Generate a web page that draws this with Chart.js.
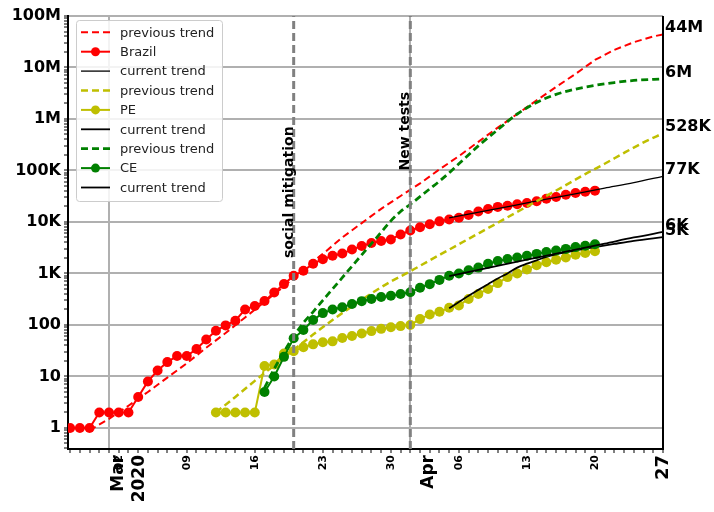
<!DOCTYPE html>
<html><head><meta charset="utf-8">
<script src="https://cdn.jsdelivr.net/npm/chart.js@4"></script>
<style>html,body{margin:0;padding:0;background:#fff}</style>
</head><body>
<canvas id="c" width="714" height="512"></canvas>
<script>
// ---- data (day 0 = 2020-02-26) ----
const brazilStartDay = 0;
const brazilCases = [1,1,1,2,2,2,2,4,8,13,19,25,25,34,52,77,98,121,200,234,291,428,621,904,1128,1546,1891,2201,2433,2915,3417,3904,4256,4579,5717,6836,7910,9056,10278,11130,12056,13717,15927,17857,19638,20727,22169,23430,25262,28320,30425,33682,36599,38654,40581];
const peStartDay = 15;
const peCases = [2,2,2,2,2,16,17,28,31,37,42,46,48,56,61,68,76,84,90,95,100,130,160,180,215,240,320,400,500,650,850,1000,1200,1450,1650,1850,2050,2300,2500,2700];
const ceStartDay = 20;
const ceCases = [5,10,24,55,80,125,170,200,220,255,290,320,350,370,400,430,530,620,750,900,1000,1150,1300,1550,1750,1900,2050,2200,2400,2600,2800,3000,3250,3450,3700];

const brazilPrevDays = [2,4,6,8,10,12,14,16,18,20,22,24,26,28,30,32,34,36,38,40,42,44,46,48,50,52,54,56,58,60,61];
const brazilPrevVals = [0.9,1.5,2.7,5,9.5,18,36,70,140,280,560,1200,2400,5000,9500,18000,32000,56000,105000,190000,360000,680000,1250000,2300000,4200000,7500000,14000000,22000000,31000000,40000000,44000000];
const brazilCurDays = [39,43,47,51,55,58,61];
const brazilCurVals = [12000,16800,23400,32600,45400,58000,77000];

const pePrevDays = [15,17,19,21,23,25,27,29,31,33,35,37,39,41,43,45,47,49,51,53,55,57,59,61];
const pePrevVals = [2,4,8.2,16.5,33,65,125,230,410,700,1100,1800,2900,4700,7600,12300,20000,32000,52000,85000,135000,220000,350000,528000];
const peCurDays = [39,40,41,42,43,44,45,46,47,48,49,50,52,54,56,58,61];
const peCurVals = [210,280,370,480,620,800,1000,1300,1550,1800,2100,2350,2800,3250,3750,4300,5100];

const cePrevDays = [20,21,22,23,24,25,26,27,28,29,30,31,32,33,34,35,36,37,38,39,40,42,44,46,48,50,52,54,56,58,61];
const cePrevVals = [6,14,30,60,110,180,300,500,830,1380,2300,3800,6300,10500,16000,22000,31000,44000,62000,90000,135000,300000,620000,1250000,2100000,3000000,3800000,4500000,5100000,5600000,6000000];
const ceCurDays = [39,43,47,51,55,58,61];
const ceCurVals = [890,1280,1850,2650,3800,5000,6400];

const endLabels = ["44M","6M","528K","77K","6K","5K"];
const eventDays = [23, 35];
const eventLabels = ["social mitigation", "New tests"];
const eventLabelAt = [2000, 100000];

const yTickValues = [1,10,100,1e3,1e4,1e5,1e6,1e7,1e8];
const yTickLabels = ["1","10","100","1K","10K","100K","1M","10M","100M"];
const weekDays = [5,12,19,26,33,40,47,54,61];
const weekLabels = ["02","09","16","23","30","06","13","20","27"];
const monthDays = [4,35];
const monthLabels = [["Mar","2020"],["Apr"]];

const X_MIN = -0.22, X_MAX = 61, Y_MIN = 0.39, Y_MAX = 1e8;

// ---- helpers ----
const seq = (start, vals) => vals.map((v,i)=>({x:start+i, y:v}));
const pts = (days, vals) => days.map((d,i)=>({x:d, y:vals[i]}));
const RED='#ff0000', YEL='#bfbf00', GRN='#008000', BLK='#000000', GRY='#808080';
const FONT='"DejaVu Sans", sans-serif';

const datasets = [
  {label:'previous trend', data:pts(brazilPrevDays,brazilPrevVals), borderColor:RED, borderWidth:2, borderDash:[7,4], pointRadius:0, legend:true},
  {label:'Brazil', data:seq(brazilStartDay,brazilCases), borderColor:RED, backgroundColor:RED, borderWidth:2, pointRadius:5, pointBorderWidth:0, pointBackgroundColor:RED, legend:true},
  {label:'current trend', data:pts(brazilCurDays,brazilCurVals), borderColor:BLK, borderWidth:1.3, pointRadius:0, cubicInterpolationMode:'monotone', legend:true},
  {label:'previous trend', data:pts(pePrevDays,pePrevVals), borderColor:YEL, borderWidth:2.5, borderDash:[7,4], pointRadius:0, cubicInterpolationMode:'monotone', legend:true},
  {label:'PE', data:seq(peStartDay,peCases), borderColor:YEL, backgroundColor:YEL, borderWidth:2, pointRadius:5, pointBorderWidth:0, pointBackgroundColor:YEL, legend:true},
  {label:'current trend', data:pts(peCurDays,peCurVals), borderColor:BLK, borderWidth:1.8, pointRadius:0, cubicInterpolationMode:'monotone', legend:true},
  {label:'previous trend', data:pts(cePrevDays,cePrevVals), borderColor:GRN, borderWidth:2.8, borderDash:[7,4], pointRadius:0, cubicInterpolationMode:'monotone', legend:true},
  {label:'CE', data:seq(ceStartDay,ceCases), borderColor:GRN, backgroundColor:GRN, borderWidth:2, pointRadius:5, pointBorderWidth:0, pointBackgroundColor:GRN, legend:true},
  {label:'current trend', data:pts(ceCurDays,ceCurVals), borderColor:BLK, borderWidth:1.8, pointRadius:0, cubicInterpolationMode:'monotone', legend:true},
];
datasets.forEach((d,i)=>{ d.order = 100 - i; d.fill = false; });
eventDays.forEach((day)=>{
  datasets.push({label:'event', data:[{x:day,y:Y_MIN},{x:day,y:Y_MAX}], borderColor:GRY, borderWidth:3, borderDash:[8,4], pointRadius:0, order:-1, legend:false, fill:false});
});
const endValues = [brazilPrevVals, cePrevVals, pePrevVals, brazilCurVals, ceCurVals, peCurVals].map(a=>a[a.length-1]);

const annotate = {
  id:'annotate',
  afterDraw(chart){
    const ctx = chart.ctx, xs = chart.scales.x, ys = chart.scales.y, ca = chart.chartArea;
    ctx.save();
    // right spine
    ctx.strokeStyle = '#000'; ctx.lineWidth = 2;
    ctx.beginPath(); ctx.moveTo(ca.right, ca.top); ctx.lineTo(ca.right, ca.bottom+1); ctx.stroke();
    // end labels
    ctx.fillStyle = '#000'; ctx.font = 'bold 16px ' + FONT; ctx.textAlign='left'; ctx.textBaseline='alphabetic';
    endLabels.forEach((t,i)=>{ ctx.fillText(t, ca.right+2, ys.getPixelForValue(endValues[i]) - 2); });
    // event labels
    ctx.font = 'bold 14px ' + FONT;
    eventDays.forEach((d,i)=>{
      ctx.save();
      ctx.translate(xs.getPixelForValue(d)-1, ys.getPixelForValue(eventLabelAt[i]));
      ctx.rotate(-Math.PI/2);
      ctx.textAlign='left'; ctx.textBaseline='alphabetic';
      ctx.fillText(eventLabels[i], 0, 0);
      ctx.restore();
    });
    // x tick labels
    const top = ca.bottom + 6;
    const drawRot = (txt, x, size) => {
      ctx.save(); ctx.translate(x, top); ctx.rotate(-Math.PI/2);
      ctx.font = 'bold ' + size + 'px ' + FONT; ctx.textAlign='right'; ctx.textBaseline='middle';
      ctx.fillText(txt, 0, 0); ctx.restore();
    };
    weekDays.forEach((d,i)=>{
      const big = d === X_MAX;
      drawRot(weekLabels[i], xs.getPixelForValue(d), big ? 18 : 11);
    });
    monthDays.forEach((d,i)=>{
      const x0 = xs.getPixelForValue(d);
      const lines = monthLabels[i];
      const offs = lines.length > 1 ? [10, 31] : [18];
      lines.forEach((t,j)=> drawRot(t, x0 + offs[j], 17));
    });
    // legend
    const lx = 76.5, ly = 20.5, lw = 146, lh = 181;
    ctx.fillStyle = 'rgba(255,255,255,0.85)'; ctx.strokeStyle = '#cccccc'; ctx.lineWidth = 1;
    ctx.beginPath(); ctx.roundRect(lx, ly, lw, lh, 3); ctx.fill(); ctx.stroke();
    let row = 0;
    chart.data.datasets.forEach((ds)=>{
      if (!ds.legend) return;
      const y = 32.3 + row*19.4; row++;
      ctx.save();
      ctx.strokeStyle = ds.borderColor; ctx.lineWidth = ds.borderWidth;
      ctx.setLineDash(ds.borderDash || []);
      ctx.beginPath(); ctx.moveTo(81, y); ctx.lineTo(110, y); ctx.stroke();
      ctx.setLineDash([]);
      if (ds.pointRadius > 0) {
        ctx.fillStyle = ds.borderColor; ctx.beginPath(); ctx.arc(95.5, y, 4.5, 0, Math.PI*2); ctx.fill();
      }
      ctx.fillStyle = '#222'; ctx.font = '13px ' + FONT; ctx.textAlign='left'; ctx.textBaseline='middle';
      ctx.fillText(ds.label, 120, y+1);
      ctx.restore();
    });
    ctx.restore();
  }
};

new Chart(document.getElementById('c'), {
  type:'line',
  data:{datasets},
  options:{
    responsive:false, animation:false, devicePixelRatio:1,
    layout:{padding:{left:0, right:51, top:16, bottom:0}},
    plugins:{legend:{display:false}, tooltip:{enabled:false}},
    scales:{
      x:{
        type:'linear', min:X_MIN, max:X_MAX,
        afterBuildTicks:(s)=>{ const t=[]; for(let d=0; d<=X_MAX; d++) t.push({value:d}); s.ticks=t; },
        afterFit:(s)=>{ s.height = 63; },
        ticks:{display:false, autoSkip:false},
        grid:{color:(c)=> (c.tick && monthDays.includes(c.tick.value)) ? '#b0b0b0' : 'rgba(0,0,0,0)', lineWidth:2, tickColor:'#000', tickLength:4, tickWidth:1},
        border:{display:true, color:'#000', width:2}
      },
      y:{
        type:'logarithmic', min:Y_MIN, max:Y_MAX,
        afterBuildTicks:(s)=>{ const t=[]; for(let e=-1;e<8;e++){ for(let m=1;m<10;m++){ const v=m*Math.pow(10,e); if(v>=Y_MIN && v<=Y_MAX) t.push({value:v}); } } t.push({value:1e8}); s.ticks=t; },
        afterFit:(s)=>{ s.width = 68; },
        ticks:{autoSkip:false, color:'#000', padding:3, font:{family:FONT, size:16, weight:'bold'},
          callback:(v)=>{ const i = yTickValues.findIndex(t=>Math.abs(t-v)/t<1e-6); return i>=0 ? yTickLabels[i] : ''; }},
        grid:{color:(c)=> (c.tick && yTickValues.some(t=>Math.abs(t-c.tick.value)/t<1e-6)) ? '#b0b0b0' : 'rgba(0,0,0,0)', lineWidth:2, tickColor:'#000', tickLength:4, tickWidth:1},
        border:{display:true, color:'#000', width:2}
      }
    }
  },
  plugins:[annotate]
});
</script>
</body></html>
